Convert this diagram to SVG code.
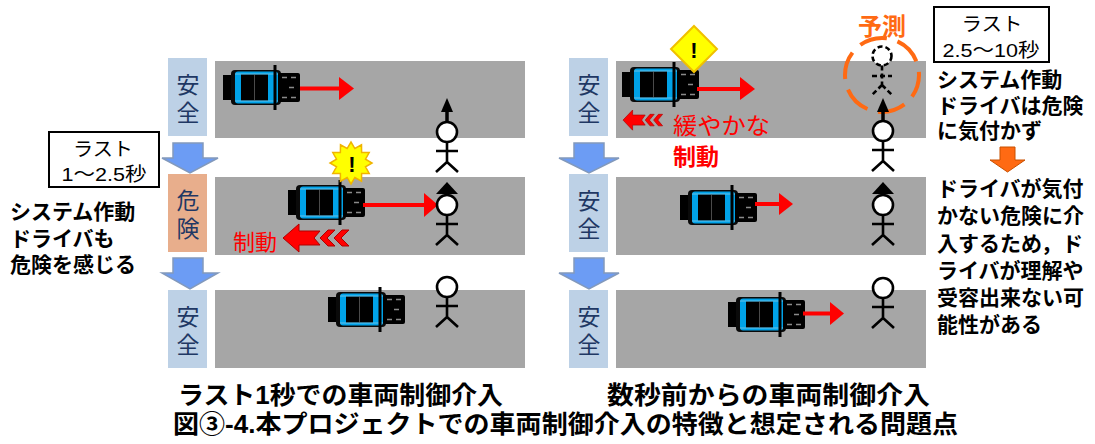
<svg xmlns="http://www.w3.org/2000/svg" xmlns:xlink="http://www.w3.org/1999/xlink" width="1095" height="444" viewBox="0 0 1095 444">
  <style>
    text { font-family: "Liberation Sans", "Noto Sans CJK JP", sans-serif; }
    .road { fill: #A6A6A6; }
    .safe { fill: #BDD1E6; }
    .danger { fill: #E8AE8C; }
    .lbl { fill: #1F3864; font-size: 23px; text-anchor: middle; }
    .flow { fill: #6C9CF4; stroke: #8299BC; stroke-width: 1.5; }
    .dir { stroke: #FF0000; stroke-width: 4; fill: none; }
    .dirhead { fill: #FF0000; }
    .ped circle { fill: #fff; stroke: #000; stroke-width: 2.6; }
    .ped path { fill: none; stroke: #000; stroke-width: 2.6; }
    .pedup { stroke: #000; stroke-width: 3.5; }
    .brake { fill: #FF0000; stroke: #B00000; stroke-width: 1; }
    .note { font-size: 21px; font-weight: bold; fill: #000; }
    .box { fill: #fff; stroke: #000; stroke-width: 2; }
    .boxtxt { font-size: 19px; fill: #000; text-anchor: middle; }
    .red { fill: #FF0000; }
    .cap { font-size: 25px; font-weight: bold; fill: #000; }
  </style>
  <defs>
    <!-- top view of a car heading right -->
    <g id="car">
      <rect x="0" y="5" width="14" height="25" fill="#000"/>
      <rect x="8" y="0" width="50" height="35" rx="4" fill="#0a0a0a"/>
      <rect x="12" y="1.5" width="43" height="32" rx="3" fill="#00A2E8"/>
      <rect x="18" y="4.5" width="27" height="26" fill="#000"/>
      <line x1="31.5" y1="4.5" x2="31.5" y2="30.5" stroke="#4a4a4a" stroke-width="1"/>
      <path d="M12 4H55M12 31H55" stroke="#d8e8f0" stroke-width="0.8" opacity="0.6"/>
      <rect x="55" y="3" width="22" height="29" rx="2" fill="#000"/>
      <path d="M59 7.5h5M68 7.5h5M59 27.5h5M68 27.5h5M66 17.5h5" stroke="#8a8a8a" stroke-width="1.6"/>
      <line x1="52" y1="-5" x2="52" y2="40" stroke="#000" stroke-width="3"/>
    </g>
    <!-- stick-figure pedestrian, head centred on origin -->
    <g id="ped" class="ped">
      <circle cx="0" cy="0" r="10"/>
      <path d="M0 10V30M-11 19H11M0 30L-11 40M0 30L11 40"/>
    </g>
    <!-- braking indicator: large arrow plus two chevrons, pointing left -->
    <g id="brake" class="brake">
      <polygon points="0,14 16,0 16,7 37,7 31,14 37,21 16,21 16,28"/>
      <polygon points="37,14 45,6 52,6 44,14 52,22 45,22"/>
      <polygon points="51,14 59,6 66,6 58,14 66,22 59,22"/>
    </g>
  </defs>

  <!-- roads -->
  <g id="roads">
    <rect class="road" x="215" y="61" width="310" height="77"/>
    <rect class="road" x="215" y="177" width="310" height="78"/>
    <rect class="road" x="215" y="290" width="310" height="78"/>
    <rect class="road" x="616" y="61" width="310" height="77"/>
    <rect class="road" x="616" y="177" width="310" height="78"/>
    <rect class="road" x="616" y="290" width="310" height="78"/>
  </g>

  <!-- state labels -->
  <g id="state-left-1">
    <rect class="safe" x="168" y="58" width="39" height="78"/>
    <text class="lbl"><tspan x="188" y="93">安</tspan><tspan x="188" y="121">全</tspan></text>
  </g>
  <g id="state-left-2">
    <rect class="danger" x="168" y="174" width="39" height="78"/>
    <text class="lbl"><tspan x="188" y="209">危</tspan><tspan x="188" y="237">険</tspan></text>
  </g>
  <g id="state-left-3">
    <rect class="safe" x="168" y="290" width="39" height="78"/>
    <text class="lbl"><tspan x="188" y="325">安</tspan><tspan x="188" y="353">全</tspan></text>
  </g>
  <g id="state-right-1">
    <rect class="safe" x="569" y="58" width="39" height="78"/>
    <text class="lbl"><tspan x="589" y="93">安</tspan><tspan x="589" y="121">全</tspan></text>
  </g>
  <g id="state-right-2">
    <rect class="safe" x="569" y="174" width="39" height="78"/>
    <text class="lbl"><tspan x="589" y="209">安</tspan><tspan x="589" y="237">全</tspan></text>
  </g>
  <g id="state-right-3">
    <rect class="safe" x="569" y="290" width="39" height="78"/>
    <text class="lbl"><tspan x="589" y="325">安</tspan><tspan x="589" y="353">全</tspan></text>
  </g>

  <!-- connectors: state transition arrows -->
  <g id="connectors">
    <polygon class="flow" points="173,143 203,143 203,158 218,158 190,173 162,158 173,158"/>
    <polygon class="flow" points="173,258 203,258 203,273 218,273 190,289 162,273 173,273"/>
    <polygon class="flow" points="574,143 604,143 604,158 619,158 589,173 559,158 574,158"/>
    <polygon class="flow" points="574,258 604,258 604,273 619,273 589,289 559,273 574,273"/>
  </g>

  <!-- left scenario: cars -->
  <g id="car-left-1">
    <use xlink:href="#car" href="#car" x="223" y="70"/>
    <line class="dir" x1="300" y1="88.5" x2="341" y2="88.5"/>
    <polygon class="dirhead" points="339,77 354,88.5 339,100"/>
  </g>
  <g id="car-left-2">
    <use xlink:href="#car" href="#car" x="288" y="185"/>
    <line class="dir" x1="363" y1="205" x2="426" y2="205" stroke-width="5"/>
    <polygon class="dirhead" points="424,193 438,205 424,217"/>
  </g>
  <g id="car-left-3">
    <use xlink:href="#car" href="#car" x="328" y="292"/>
  </g>

  <!-- left scenario: alert burst and emergency braking -->
  <g id="alert-left">
    <polygon transform="translate(351,163)" fill="#FFFF00" stroke="#F0B400" stroke-width="1.5"
      points="21,0 14.49,3.88 18.19,10.5 10.61,10.61 10.5,18.19 3.88,14.49 0,21 -3.88,14.49 -10.5,18.19 -10.61,10.61 -18.19,10.5 -14.49,3.88 -21,0 -14.49,-3.88 -18.19,-10.5 -10.61,-10.61 -10.5,-18.19 -3.88,-14.49 0,-21 3.88,-14.49 10.5,-18.19 10.61,-10.61 18.19,-10.5 14.49,-3.88"/>
    <text x="352" y="172" font-size="22" font-weight="bold" text-anchor="middle" fill="#000">!</text>
  </g>
  <g id="brake-left">
    <use xlink:href="#brake" href="#brake" transform="translate(283,224)"/>
    <text class="red" x="233" y="250" font-size="22">制動</text>
  </g>

  <!-- left scenario: pedestrians -->
  <g id="ped-left-1">
    <line class="pedup" x1="447" y1="122" x2="447" y2="110"/>
    <polygon points="447,98 453,112 441,112" fill="#000"/>
    <use xlink:href="#ped" href="#ped" x="447" y="132"/>
  </g>
  <g id="ped-left-2">
    <polygon points="447,182 458,194 436,194" fill="#000"/>
    <use xlink:href="#ped" href="#ped" x="447" y="205"/>
  </g>
  <g id="ped-left-3">
    <use xlink:href="#ped" href="#ped" x="447" y="287"/>
  </g>

  <!-- right scenario: cars -->
  <g id="car-right-1">
    <use xlink:href="#car" href="#car" x="622" y="67"/>
    <line class="dir" x1="697" y1="89" x2="741" y2="89"/>
    <polygon class="dirhead" points="740,77 755,89 740,100"/>
  </g>
  <g id="car-right-2">
    <use xlink:href="#car" href="#car" x="680" y="190"/>
    <line class="dir" x1="755" y1="204" x2="780" y2="204"/>
    <polygon class="dirhead" points="779,193 793,204 779,215"/>
  </g>
  <g id="car-right-3">
    <use xlink:href="#car" href="#car" x="728" y="297"/>
    <line class="dir" x1="803" y1="313.5" x2="831" y2="313.5"/>
    <polygon class="dirhead" points="830,302 844,313.5 830,325"/>
  </g>

  <!-- right scenario: caution sign and gentle braking -->
  <g id="caution-right">
    <polygon points="694,26 717,49 694,72 671,49" fill="#FFFF00" stroke="#F0C000" stroke-width="2"/>
    <text x="694" y="58" font-size="22" font-weight="bold" text-anchor="middle" fill="#000">!</text>
  </g>
  <g id="brake-right">
    <use xlink:href="#brake" href="#brake" transform="translate(623,110) scale(0.6,0.72)"/>
    <text class="red" font-size="23"><tspan x="673" y="134" textLength="97" lengthAdjust="spacingAndGlyphs">緩やかな</tspan><tspan x="673" y="165" font-weight="bold">制動</tspan></text>
  </g>

  <!-- right scenario: predicted pedestrian position -->
  <g id="prediction">
    <circle cx="882" cy="75" r="37" fill="none" stroke="#FF6A13" stroke-width="4" stroke-dasharray="28 11" stroke-dashoffset="5"/>
    <g class="ped" stroke-dasharray="5 3">
      <circle cx="882" cy="56" r="9.5"/>
      <path d="M882 65.5V85M872 76H892M882 85L872 95M882 85L892 95"/>
    </g>
    <text x="882" y="35" font-size="24" font-weight="bold" text-anchor="middle" fill="#FF6A13">予測</text>
  </g>

  <!-- right scenario: pedestrians -->
  <g id="ped-right-1">
    <line class="pedup" x1="883" y1="121" x2="883" y2="110"/>
    <polygon points="883,98 889,112 877,112" fill="#000"/>
    <use xlink:href="#ped" href="#ped" x="883" y="131"/>
  </g>
  <g id="ped-right-2">
    <polygon points="883,182 894,194 872,194" fill="#000"/>
    <use xlink:href="#ped" href="#ped" x="883" y="205"/>
  </g>
  <g id="ped-right-3">
    <use xlink:href="#ped" href="#ped" x="883" y="288"/>
  </g>

  <!-- timing boxes -->
  <g id="timing-left">
    <rect class="box" x="49" y="132" width="110" height="55"/>
    <text class="boxtxt"><tspan x="103" y="156" textLength="60" lengthAdjust="spacingAndGlyphs">ラスト</tspan><tspan x="104" y="181" textLength="85" lengthAdjust="spacingAndGlyphs">1〜2.5秒</tspan></text>
  </g>
  <g id="timing-right">
    <rect class="box" x="934" y="7" width="115" height="55"/>
    <text class="boxtxt"><tspan x="992" y="31" textLength="61" lengthAdjust="spacingAndGlyphs">ラスト</tspan><tspan x="991" y="57" textLength="97" lengthAdjust="spacingAndGlyphs">2.5〜10秒</tspan></text>
  </g>

  <!-- explanatory notes -->
  <g id="note-left">
    <text class="note"><tspan x="10" y="219">システム作動</tspan><tspan x="10" y="246">ドライバも</tspan><tspan x="10" y="272">危険を感じる</tspan></text>
  </g>
  <g id="note-right-1">
    <text class="note"><tspan x="937" y="87">システム作動</tspan><tspan x="937" y="113">ドライバは危険</tspan><tspan x="937" y="138">に気付かず</tspan></text>
  </g>
  <g id="note-arrow">
    <polygon points="1000,147 1015,147 1015,160 1025,160 1007.5,172 990,160 1000,160" fill="#FF6A13" stroke="#C85000" stroke-width="1"/>
  </g>
  <g id="note-right-2">
    <text class="note"><tspan x="937" y="196">ドライバが気付</tspan><tspan x="937" y="223">かない危険に介</tspan><tspan x="937" y="251">入するため，ド</tspan><tspan x="937" y="278">ライバが理解や</tspan><tspan x="937" y="305">受容出来ない可</tspan><tspan x="937" y="332">能性がある</tspan></text>
  </g>

  <!-- captions -->
  <g id="captions">
    <text class="cap" x="178" y="404" textLength="325" lengthAdjust="spacingAndGlyphs">ラスト1秒での車両制御介入</text>
    <text class="cap" x="607" y="404" textLength="323" lengthAdjust="spacingAndGlyphs">数秒前からの車両制御介入</text>
    <text class="cap" x="173" y="433" font-size="26" font-weight="500" textLength="785" lengthAdjust="spacingAndGlyphs">図③-4.本プロジェクトでの車両制御介入の特徴と想定される問題点</text>
  </g>
</svg>
